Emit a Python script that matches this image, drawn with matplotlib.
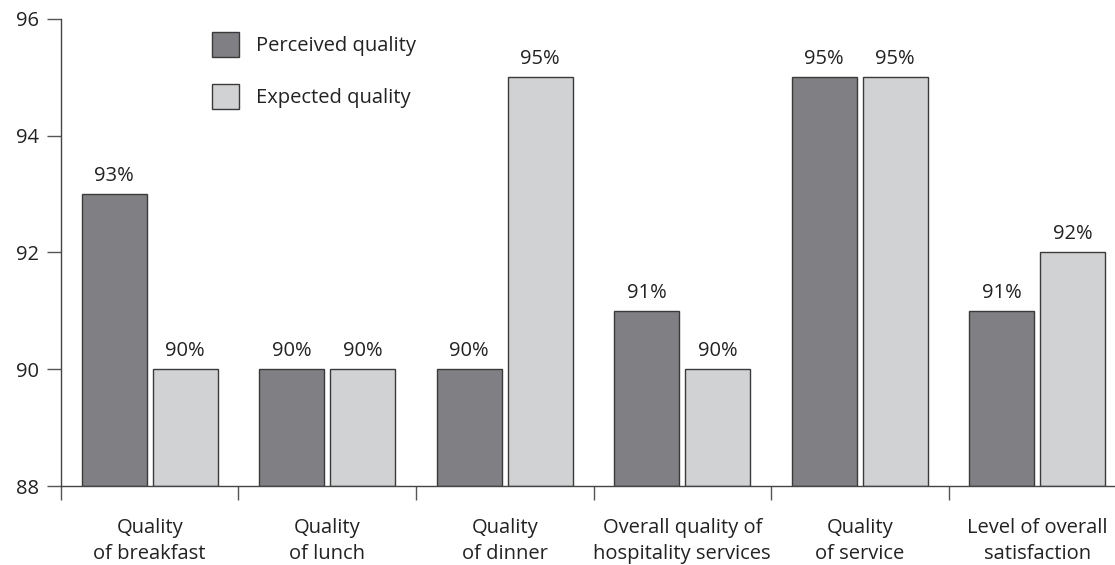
import numpy as np
import matplotlib.pyplot as plt

categories = ["Quality\nof breakfast", "Quality\nof lunch", "Quality\nof dinner",
              "Overall quality of\nhospitality services", "Quality\nof service",
              "Level of overall\nsatisfaction"]
perceived = [93, 90, 90, 91, 95, 91]
expected = [90, 90, 95, 90, 95, 92]

plt.rcParams['font.family'] = ['Open Sans', 'DejaVu Sans']

dark = '#808084'
light = '#d1d2d4'
edge = '#3a3a3a'
fs = 14.5

fig = plt.figure(figsize=(11.15, 5.65), dpi=100)
ax = fig.add_axes([0.0547, 0.1398, 0.9552, 0.8266])

x = np.arange(len(categories))
w = 0.366
b1 = ax.bar(x - 0.2, np.array(perceived) - 88, w, bottom=88, color=dark,
            edgecolor=edge, linewidth=1, label='Perceived quality')
b2 = ax.bar(x + 0.2, np.array(expected) - 88, w, bottom=88, color=light,
            edgecolor=edge, linewidth=1, label='Expected quality')

for bars, vals in ((b1, perceived), (b2, expected)):
    for r, v in zip(bars, vals):
        ax.annotate(f"{v}%", (r.get_x() + r.get_width() / 2, v),
                    xytext=(0, 6), textcoords='offset points',
                    ha='center', va='bottom', fontsize=fs, color='#222222')

ax.set_xlim(-0.5, len(categories) - 0.5)
ax.set_ylim(88, 96)
ax.set_yticks([88, 90, 92, 94, 96])

# boundaries get the tick marks, labels sit at the category centres
ax.set_xticks(np.arange(len(categories) + 1) - 0.5)
ax.set_xticklabels([])
ax.set_xticks(x, minor=True)
ax.set_xticklabels(categories, minor=True, fontsize=fs, color='#222222',
                   linespacing=1.4)
ax.tick_params(axis='x', which='minor', length=0, pad=23)
ax.tick_params(axis='x', which='major', length=10, width=1, color='#555555')
ax.tick_params(axis='y', length=10, width=1, color='#555555', labelsize=fs,
               labelcolor='#222222', pad=6)

for s in ('top', 'right'):
    ax.spines[s].set_visible(False)
for s in ('left', 'bottom'):
    ax.spines[s].set_color('#444444')
    ax.spines[s].set_linewidth(1)

ax.legend(loc='upper left', bbox_to_anchor=(0.125, 1.01), frameon=False,
          fontsize=fs, handlelength=1.35, handleheight=1.5, labelspacing=1.35,
          handletextpad=0.8, labelcolor='#222222')

fig.savefig('out.png', dpi=100)
